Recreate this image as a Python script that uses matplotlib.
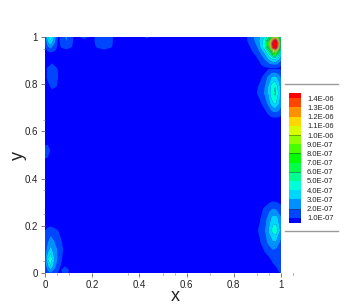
import matplotlib
matplotlib.use('Agg')
import matplotlib.pyplot as plt
from matplotlib.lines import Line2D
import numpy as np

plt.rcParams['font.family'] = ['Liberation Sans', 'DejaVu Sans']

W, H = 346, 308

# contour levels, in units of 1e-7
levels = [1, 2, 3, 4, 5, 6, 7, 8, 9, 10, 11, 12, 13, 14]
level_labels = ['1.0E-07', '2.0E-07', '3.0E-07', '4.0E-07', '5.0E-07', '6.0E-07', '7.0E-07',
                '8.0E-07', '9.0E-07', '1.0E-06', '1.1E-06', '1.2E-06', '1.3E-06', '1.4E-06']
band_colors = ['#0000ff', '#0046ff', '#0091ff', '#00d7ff', '#00ffd7', '#00ff91', '#00ff46', '#00ff00',
               '#46ff00', '#91ff00', '#d7ff00', '#ffd700', '#ff9100', '#ff4600', '#ff0000']

# top right hot spot
tr_x = [.85, .87, .90, .93, .95, .965, .977, .99, 1.0]
tr_y = [.86, .88, .91, .94, .955, .972, .985, 1.0]
tr_v = [[.3, .3, .3, .4, .5, .5, .5, .5, .5],
        [.3, .4, .6, 1.3, 1.6, 1.8, 1.8, 1.5, 1.2],
        [.4, .6, 1.0, 2.2, 3.5, 4.5, 4.5, 3.5, 2.5],
        [.5, .8, 1.6, 3.5, 6, 9.5, 10.5, 7.5, 4.5],
        [.6, 1.0, 2, 4.5, 8.5, 13.5, 15.5, 11, 6],
        [.7, 1.2, 2.3, 4.5, 9.5, 14.5, 16, 12, 7],
        [.8, 1.4, 2.5, 4.5, 8.5, 13, 15, 11, 6.5],
        [.8, 1.5, 2.5, 4, 6, 9, 10.5, 8, 5]]

# right side, middle
rm_x = [.89, .91, .93, .945, .96, .975, .99, 1.0]
rm_y = [.65, .68, .72, .76, .79, .83, .865]
rm_v = [[.3, .3, .4, .5, .6, .6, .6, .5],
        [.3, .4, .7, 1.2, 1.8, 2.0, 1.8, 1.5],
        [.4, .8, 1.5, 2.3, 3.6, 4.3, 3.2, 2.5],
        [.8, 1.3, 2.1, 3.0, 4.6, 5.2, 3.8, 2.8],
        [.7, 1.2, 2.0, 3.0, 4.4, 5.0, 3.6, 2.6],
        [.4, .7, 1.4, 2.2, 3, 3.3, 2.6, 2],
        [.3, .3, .5, .9, 1.1, 1.1, 1.0, .9]]

# right side, low
rl_x = [.89, .91, .93, .95, .965, .98, 1.0]
rl_y = [0, .05, .09, .13, .18, .23, .27, .31]
rl_v = [[.3, .3, .3, .3, .4, .7, 1.1],
        [.3, .3, .4, .7, 1.1, 1.3, 1.4],
        [.3, .5, 1.0, 1.4, 1.8, 1.6, 1.3],
        [.5, .9, 1.6, 2.4, 2.9, 2.8, 1.8],
        [.7, 1.2, 1.9, 3.2, 4.4, 4.6, 2.6],
        [.5, .9, 1.6, 2.6, 3.5, 3.5, 2.2],
        [.3, .6, 1.2, 1.8, 2.1, 2.0, 1.5],
        [.2, .3, .4, .6, .8, .7, .5]]

# bottom left
bl_x = [0, .012, .024, .04, .06, .08]
bl_y = [0, .03, .06, .1, .14, .18, .21]
bl_v = [[1.0, 1.6, 2, 1.5, .8, .5],
        [1.5, 3, 4, 2.5, 1.2, .6],
        [1.8, 4, 4.7, 3, 1.5, .7],
        [1.4, 2.6, 3.3, 2.6, 1.6, .9],
        [1.2, 1.8, 2.4, 1.9, 1.3, .7],
        [1, 1.3, 1.5, 1.3, .9, .4],
        [.5, .6, .6, .5, .4, .3]]

small_x = [.06, .085, .11]
small_y = [0, .013, .04]
small_v = [[.5, 1.4, .6], [.6, 1.8, .6], [.3, .4, .3]]

# top edge, left to right
tl_x = [0, .012, .024, .04, .055]
tl_y = [.93, .95, .97, .985, 1]
tl_v = [[.5, .6, .7, .6, .3],
        [.8, 1.5, 2, 1.5, .6],
        [1.2, 2.6, 3.2, 2, .8],
        [1.4, 3.3, 4, 2.5, .9],
        [1.6, 3.8, 5, 2.8, 1]]

t2_x = [.055, .07, .09, .11, .13]
t2_y = [.94, .96, .98, 1.0]
t2_v = [[.3, .5, .6, .5, .2],
        [.5, 1.2, 1.7, 1.2, .4],
        [.6, 1.5, 2, 1.4, .5],
        [.6, 1.5, 2.2, 1.4, .5]]

t3_x = [.13, .165, .2]
t3_y = [.98, 1]
t3_v = [[.3, .4, .3], [.5, 1.5, .5]]

t4_x = [.2, .22, .25, .28, .3]
t4_y = [.94, .96, .98, 1]
t4_v = [[.3, .5, .7, .5, .2],
        [.5, 1.2, 1.6, 1.2, .4],
        [.6, 1.4, 1.7, 1.3, .5],
        [.6, 1.4, 1.7, 1.3, .5]]

t5_x = [.41, .43, .46]
t5_y = [.985, 1]
t5_v = [[.3, .4, .3], [.5, 1.4, .5]]

# left edge
lm_x = [0, .01, .03, .05, .065]
lm_y = [.76, .79, .83, .86, .9]
lm_v = [[.3, .3, .5, .3, .2],
        [.3, .6, 1.3, 1, .4],
        [.5, 1.2, 1.8, 1.3, .5],
        [.4, 1.2, 1.7, 1.2, .4],
        [.2, .5, .7, .4, .2]]

ll_x = [0, .012, .03]
ll_y = [.47, .52, .56]
ll_v = [[.8, .6, .2], [1.5, 1.6, .5], [.6, .5, .2]]

patches = [(tr_x, tr_y, tr_v), (rm_x, rm_y, rm_v), (rl_x, rl_y, rl_v), (bl_x, bl_y, bl_v),
           (small_x, small_y, small_v), (tl_x, tl_y, tl_v), (t2_x, t2_y, t2_v), (t3_x, t3_y, t3_v),
           (t4_x, t4_y, t4_v), (t5_x, t5_y, t5_v), (lm_x, lm_y, lm_v), (ll_x, ll_y, ll_v)]

major_ticks = [0, .2, .4, .6, .8, 1]
major_labels = ['0', '0.2', '0.4', '0.6', '0.8', '1']
x_minor = [.05, .1, .35, .5, .55, .7, .9, .95]
y_minor = [.05, .25, .35, .65, .95]

fig = plt.figure(figsize=(W / 100, H / 100), dpi=100)
ax = fig.add_axes([45 / W, 1 - 273 / H, 236 / W, 236 / H])
ax.set_facecolor('#0000ff')

for px, py, pv in patches:
    ax.contourf(px, py, np.array(pv), levels=levels, colors=band_colors[1:], extend='max', antialiased=True)

ax.set_xlim(0, 1)
ax.set_ylim(0, 1)
for s in ax.spines.values():
    s.set_visible(False)
ax.set_xticks(major_ticks, major_labels)
ax.set_yticks(major_ticks, major_labels)
ax.set_xticks(x_minor, minor=True)
ax.set_yticks(y_minor, minor=True)
ax.tick_params(which='major', length=3, width=.6, color='#666666', labelsize=7, labelcolor='#222222', pad=2)
ax.tick_params(which='minor', length=1.5, width=.5, color='#888888')
ax.plot([1.05, 1.05], [0, -.008], color='#888888', lw=.5, clip_on=False)
ax.set_xlim(0, 1)
ax.set_ylim(0, 1)
ax.set_xlabel('x', fontsize=13, color='#222222')
ax.set_ylabel('y', fontsize=13, color='#222222')
ax.xaxis.set_label_coords(.55, -.065)
ax.yaxis.set_label_coords(-.076, .5)

# legend
lax = fig.add_axes([289.3 / W, 1 - 222.7 / H, 11.7 / W, 129.4 / H])
edges = [.46] + levels + [14.54]
for i, c in enumerate(band_colors):
    lax.axhspan(edges[i], edges[i + 1], color=c, lw=0)
for v in [2, 6, 8, 10]:
    lax.axhline(v, color='#223322', lw=.5, alpha=.6)
lax.set_ylim(.46, 14.54)
lax.set_xticks([])
lax.yaxis.tick_right()
lax.set_yticks(levels, level_labels)
lax.tick_params(axis='y', length=0, labelsize=5.5, pad=4.3, labelcolor='#222222')
for s in lax.spines.values():
    s.set_visible(False)

for yp in [84, 231]:
    fig.add_artist(Line2D([285 / W, 338 / W], [1 - yp / H, 1 - yp / H], color='#999999', lw=1))

fig.savefig('out.png', dpi=100)
